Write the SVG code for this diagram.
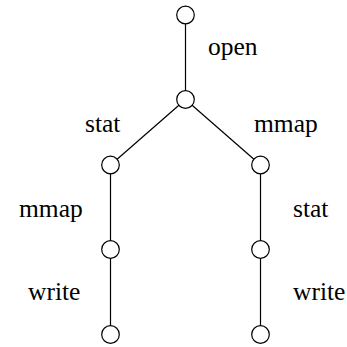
<svg xmlns="http://www.w3.org/2000/svg" width="347" height="347" viewBox="0 0 347 347">
<style>
.n{fill:#fff;stroke:#000;stroke-width:1.2}
.e{stroke:#000;stroke-width:1.2;fill:none}
</style>
<rect width="347" height="347" fill="#fff"/>
<g id="edges">
<line class="e" x1="185.5" y1="15" x2="185.5" y2="99.5"/>
<line class="e" x1="185.5" y1="99.5" x2="110.5" y2="165"/>
<line class="e" x1="185.5" y1="99.5" x2="260.5" y2="165"/>
<line class="e" x1="110.5" y1="165" x2="110.5" y2="249.5"/>
<line class="e" x1="110.5" y1="249.5" x2="110.5" y2="334.5"/>
<line class="e" x1="260.5" y1="165" x2="260.5" y2="249.5"/>
<line class="e" x1="260.5" y1="249.5" x2="260.5" y2="334.5"/>
<text x="208" y="55" font-family="Times New Roman" font-size="25.5">open</text>
<text x="85" y="132" font-family="Times New Roman" font-size="25.5">stat</text>
<text x="254" y="132" font-family="Times New Roman" font-size="25.5">mmap</text>
<text x="19" y="217" font-family="Times New Roman" font-size="25.5">mmap</text>
<text x="293" y="217" font-family="Times New Roman" font-size="25.5">stat</text>
<text x="28" y="300" font-family="Times New Roman" font-size="25.5">write</text>
<text x="293" y="300" font-family="Times New Roman" font-size="25.5">write</text>
</g>
<g id="n0"><circle class="n" cx="185.5" cy="15" r="8.8"/></g>
<g id="n1"><circle class="n" cx="185.5" cy="99.5" r="8.8"/></g>
<g id="n2"><circle class="n" cx="110.5" cy="165" r="8.8"/></g>
<g id="n3"><circle class="n" cx="260.5" cy="165" r="8.8"/></g>
<g id="n4"><circle class="n" cx="110.5" cy="249.5" r="8.8"/></g>
<g id="n5"><circle class="n" cx="260.5" cy="249.5" r="8.8"/></g>
<g id="n6"><circle class="n" cx="110.5" cy="334.5" r="8.8"/></g>
<g id="n7"><circle class="n" cx="260.5" cy="334.5" r="8.8"/></g>
</svg>
